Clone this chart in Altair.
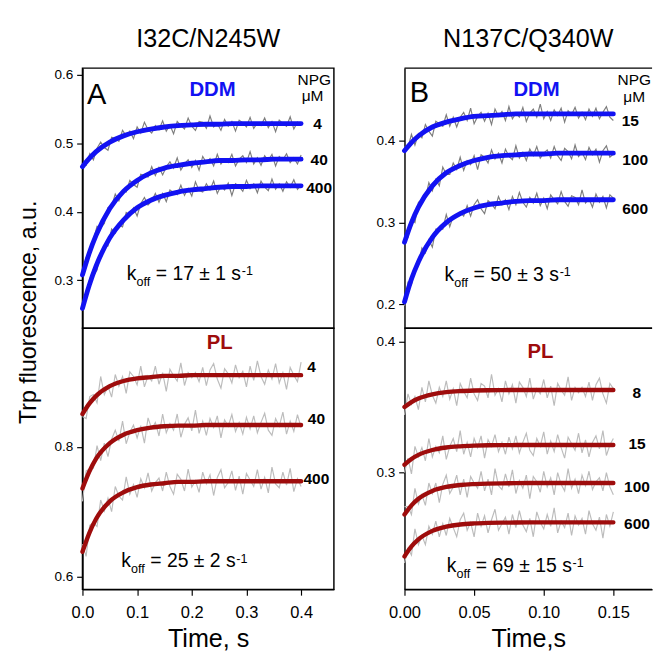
import altair as alt
import pandas as pd

FONT = "Liberation Sans"

# sampling interval of the recorded traces (s)
LEFT_DT = 0.4 / 60
RIGHT_DT = 0.15 / 60

# ---- recorded traces, fluorescence in 1/1000 a.u. ----
# I32C/N245W, DDM
DDM1_4 = [468,468,485,476,493,502,494,490,509,507,503,519,511,518,507,524,515,531,520,515,526,520,533,518,527,514,532,526,521,537,525,519,532,531,522,540,524,529,519,535,525,532,518,534,530,524,538,522,530,526,537,523,532,517,534,529,525,539,521,531,527]
DDM1_40 = [305,333,336,359,379,377,383,406,408,426,416,431,429,446,440,436,455,453,451,466,453,465,454,466,473,464,479,461,470,476,465,475,461,481,472,478,467,484,470,477,472,484,467,477,482,472,488,470,479,468,482,475,484,467,481,476,485,472,479,470,483]
DDM1_400 = [263,271,303,307,315,342,349,350,375,369,381,378,399,395,406,394,412,421,410,416,427,414,427,415,432,428,425,439,424,434,423,444,431,429,441,432,445,427,438,432,442,424,441,437,430,446,434,441,428,445,436,431,448,433,441,430,444,436,447,433,439]
# I32C/N245W, PL
PL1_4 = [847,844,878,881,868,909,881,894,877,912,894,909,883,916,909,896,925,893,910,902,925,897,915,886,920,910,902,930,895,915,907,915,901,923,895,919,929,905,891,921,913,899,927,907,917,893,925,903,933,909,897,919,905,929,899,915,889,923,911,901,931]
PL1_40 = [716,763,766,767,802,779,806,785,812,826,809,840,805,823,834,814,833,806,845,828,838,817,851,822,836,826,851,815,835,845,825,857,821,840,818,844,830,848,814,842,832,850,824,838,820,846,828,848,822,838,852,826,818,844,832,854,820,840,824,850,830]
PL1_400 = [650,631,679,683,677,718,701,721,700,739,724,718,754,727,742,722,751,737,760,732,745,752,732,761,739,727,758,750,732,766,738,748,730,761,743,757,725,753,765,737,745,763,733,755,727,759,749,739,765,735,753,729,769,743,737,761,741,767,731,751,739]
# N137C/Q340W, DDM
DDM2_15 = [393,392,408,395,409,404,420,412,406,424,421,418,432,418,429,417,429,435,425,440,421,430,435,424,434,420,439,430,436,425,442,427,434,429,441,424,434,439,429,445,427,436,425,438,431,440,423,437,432,441,428,435,426,439,430,440,427,435,442,429,425]
DDM2_100 = [284,282,304,300,325,328,330,349,339,353,345,368,359,359,373,365,380,364,376,371,382,365,383,380,373,389,378,385,373,390,381,377,394,379,386,376,390,382,393,379,385,389,379,393,382,376,391,387,378,395,381,386,377,392,383,390,374,388,394,380,384]
DDM2_600 = [198,227,224,243,249,269,263,279,270,292,292,292,310,295,308,307,313,308,321,308,322,328,317,311,327,323,317,332,322,328,316,332,322,337,325,319,331,324,336,321,330,317,334,328,323,338,326,320,333,331,322,340,324,329,319,335,325,332,318,334,330]
# N137C/Q340W, PL
PL2_8 = [344,360,352,358,348,365,354,370,359,353,365,358,370,356,364,351,368,362,357,372,360,355,368,366,357,375,359,364,354,370,360,367,353,369,365,358,372,356,364,360,371,357,366,351,368,363,359,373,355,365,361,365,358,369,355,367,372,360,353,368,364]
PL2_15 = [300,311,299,320,312,319,309,326,312,320,315,328,310,320,326,316,332,314,323,312,326,319,328,311,325,320,329,316,323,314,327,318,328,315,323,330,317,313,326,320,331,314,324,316,329,319,311,327,322,317,330,315,325,312,323,328,318,332,313,321,326]
PL2_100 = [274,274,268,288,276,283,275,292,284,292,277,291,298,284,289,298,283,295,281,297,292,288,301,286,295,283,303,290,287,299,289,302,284,294,288,298,280,297,293,285,301,289,296,283,300,291,286,303,288,295,284,298,290,301,287,293,296,286,300,289,283]
PL2_600 = [231,242,237,257,245,252,245,259,253,263,251,261,252,265,258,251,264,269,256,262,251,269,259,267,254,264,272,256,261,266,253,268,258,271,260,255,265,251,270,262,257,268,259,273,254,263,258,269,252,267,260,265,253,271,261,256,266,250,268,259,270]

# ---- fitted curves (a.u.) ----
FIT_T_LEFT = [0, 0.0125, 0.025, 0.05, 0.075, 0.1, 0.125, 0.15, 0.175, 0.2, 0.225, 0.25, 0.275, 0.3, 0.325, 0.35, 0.375, 0.4]
FIT_DDM1_4 = [0.466,0.478,0.488,0.502,0.511,0.517,0.521,0.524,0.526,0.527,0.528,0.528,0.529,0.529,0.529,0.529,0.529,0.529]
FIT_DDM1_40 = [0.308,0.340,0.366,0.405,0.430,0.446,0.457,0.464,0.468,0.471,0.473,0.475,0.475,0.476,0.476,0.477,0.477,0.477]
FIT_DDM1_400 = [0.259,0.293,0.321,0.362,0.388,0.406,0.417,0.424,0.429,0.432,0.434,0.436,0.437,0.437,0.438,0.438,0.438,0.438]
FIT_PL1_4 = [0.851,0.867,0.879,0.894,0.902,0.906,0.908,0.910,0.910,0.911,0.911,0.911,0.911,0.911,0.911,0.911,0.911,0.911]
FIT_PL1_40 = [0.736,0.762,0.782,0.806,0.819,0.826,0.830,0.832,0.833,0.833,0.834,0.834,0.834,0.834,0.834,0.834,0.834,0.834]
FIT_PL1_400 = [0.638,0.667,0.689,0.716,0.730,0.738,0.742,0.744,0.746,0.746,0.747,0.747,0.747,0.747,0.747,0.747,0.747,0.747]

FIT_T_RIGHT = [0, 0.005, 0.01, 0.02, 0.03, 0.04, 0.05, 0.06, 0.07, 0.08, 0.09, 0.1, 0.11, 0.12, 0.13, 0.14, 0.15]
FIT_DDM2_15 = [0.388,0.398,0.406,0.417,0.423,0.427,0.430,0.431,0.432,0.433,0.433,0.433,0.433,0.433,0.433,0.433,0.433]
FIT_DDM2_100 = [0.276,0.300,0.319,0.345,0.361,0.370,0.376,0.380,0.382,0.383,0.384,0.384,0.385,0.385,0.385,0.385,0.385]
FIT_DDM2_600 = [0.203,0.231,0.252,0.282,0.300,0.311,0.318,0.322,0.324,0.326,0.327,0.327,0.328,0.328,0.328,0.328,0.328]
FIT_PL2_8 = [0.350,0.3538,0.3565,0.3597,0.3614,0.3622,0.3626,0.3628,0.3629,0.363,0.363,0.363,0.363,0.363,0.363,0.363,0.363]
FIT_PL2_15 = [0.306,0.3104,0.3135,0.3172,0.3191,0.3200,0.3205,0.3208,0.3209,0.321,0.321,0.321,0.321,0.321,0.321,0.321,0.321]
FIT_PL2_100 = [0.268,0.275,0.280,0.286,0.289,0.2905,0.2912,0.2916,0.2918,0.2919,0.292,0.292,0.292,0.292,0.292,0.292,0.292]
FIT_PL2_600 = [0.236,0.2436,0.249,0.2555,0.2587,0.2604,0.2612,0.2616,0.2618,0.2619,0.262,0.262,0.262,0.262,0.262,0.262,0.262]

# ---- annotations: (text, t, value, style) ----
ANN_TL = [("A", 0.0083, 0.557, "letter"), ("DDM", 0.238, 0.569, "buffer"),
          ("NPG", 0.424, 0.586, "npg"), ("\u03bcM", 0.421, 0.562, "npg"),
          ("4", 0.43, 0.528, "conc"), ("40", 0.433, 0.475, "conc"), ("400", 0.433, 0.434, "conc"),
          ("k", 0.081, 0.3007, "k"), ("off", 0.081, 0.3007, "off"),
          ("= 17 \u00b1 1 s", 0.081, 0.3007, "eq"), ("-1", 0.081, 0.3007, "sup")]
ANN_BL = [("PL", 0.251, 0.952, "buffer"),
          ("4", 0.419, 0.924, "conc"), ("40", 0.428, 0.843, "conc"), ("400", 0.428, 0.750, "conc"),
          ("k", 0.071, 0.614, "k"), ("off", 0.071, 0.614, "off"),
          ("= 25 \u00b1 2 s", 0.071, 0.614, "eq"), ("-1", 0.071, 0.614, "sup")]
ANN_TR = [("B", 0.0038, 0.4477, "letter"), ("DDM", 0.0948, 0.4548, "buffer"),
          ("NPG", 0.1650, 0.469, "npg"), ("\u03bcM", 0.1650, 0.448, "npg"),
          ("15", 0.1622, 0.4244, "conc"), ("100", 0.1656, 0.3763, "conc"), ("600", 0.1656, 0.3163, "conc"),
          ("k", 0.0288, 0.2284, "k"), ("off", 0.0288, 0.2284, "off"),
          ("= 50 \u00b1 3 s", 0.0288, 0.2284, "eq"), ("-1", 0.0288, 0.2284, "sup")]
ANN_BR = [("PL", 0.0976, 0.3877, "buffer"),
          ("8", 0.1668, 0.3605, "conc"), ("15", 0.167, 0.322, "conc"),
          ("100", 0.167, 0.2887, "conc"), ("600", 0.167, 0.261, "conc"),
          ("k", 0.0304, 0.224, "k"), ("off", 0.0304, 0.224, "off"),
          ("= 69 \u00b1 15 s", 0.0304, 0.224, "eq"), ("-1", 0.0304, 0.224, "sup")]

BLUE = "#1212f2"
RED = "#9e0c0c"
DARK_GRAY = "#7d7d7d"
LIGHT_GRAY = "#bcbcbc"


def noise_df(series, dt):
    rows = []
    for name, vals in series.items():
        for i, v in enumerate(vals):
            rows.append({"t": i * dt, "v": v / 1000.0, "series": name})
    return pd.DataFrame(rows)


def fit_df(times, series):
    rows = []
    for name, vals in series.items():
        for t, v in zip(times, vals):
            rows.append({"t": t, "v": v, "series": name})
    return pd.DataFrame(rows)


def ann_df(items):
    return pd.DataFrame([{"label": l, "t": t, "v": v, "style": s} for (l, t, v, s) in items])


def panel(noise, fits, ann, xdom, ydom, yaxis, xaxis, width, height, gray, fcolor,
          fwidth, bcolor, sup_dx, open_right=False, title=None):
    X = alt.X("t:Q", scale=alt.Scale(domain=xdom, nice=False, zero=False), axis=xaxis)
    Y = alt.Y("v:Q", scale=alt.Scale(domain=ydom, nice=False, zero=False), axis=yaxis)
    layers = [
        alt.Chart(noise).mark_line(color=gray, strokeWidth=1.2).encode(x=X, y=Y, detail="series:N"),
        alt.Chart(fits).mark_line(color=fcolor, strokeWidth=fwidth, interpolate="monotone",
                                  strokeCap="round").encode(x=X, y=Y, detail="series:N"),
    ]
    styles = {
        "letter": dict(fontSize=30, align="left", baseline="alphabetic", color="black"),
        "buffer": dict(fontSize=21, fontWeight="bold", align="center", baseline="alphabetic", color=bcolor),
        "npg": dict(fontSize=16, align="center", baseline="alphabetic", color="black"),
        "conc": dict(fontSize=16, fontWeight="bold", align="center", baseline="middle", color="black"),
        "k": dict(fontSize=20, align="left", baseline="alphabetic", color="black"),
        "off": dict(fontSize=13, align="left", baseline="alphabetic", dx=10, dy=6, color="black"),
        "eq": dict(fontSize=20, align="left", baseline="alphabetic", dx=30, color="black"),
        "sup": dict(fontSize=13, align="left", baseline="alphabetic", dx=sup_dx, dy=-5, color="black"),
    }
    present = set(a for a in ann["style"])
    for name, props in styles.items():
        if name not in present:
            continue
        layers.append(
            alt.Chart(ann).transform_filter(alt.datum.style == name)
            .mark_text(font=FONT, **props).encode(x=X, y=Y, text="label:N")
        )
    frame = pd.DataFrame({"r": [0]})
    if open_right:
        layers.append(alt.Chart(frame).mark_rule(color="black", strokeWidth=1.5)
                      .encode(x=alt.value(0), x2=alt.value(width), y=alt.value(0)))
        layers.append(alt.Chart(frame).mark_rule(color="black", strokeWidth=1.5)
                      .encode(x=alt.value(0), x2=alt.value(width), y=alt.value(height)))
    if title is not None:
        layers.append(alt.Chart(frame).mark_text(text=title, font=FONT, fontSize=26, align="center",
                                                 baseline="top", color="black")
                      .encode(x=alt.value(width / 2), y=alt.value(-43)))
    ch = alt.layer(*layers).properties(width=width, height=height)
    if open_right:
        ch = ch.properties(view=alt.ViewBackground(stroke="transparent"))
    return ch


def yaxis(values, title=None):
    kw = dict(values=values, format=".1f", tickSize=6, labelFontSize=14, labelPadding=4)
    if title:
        return alt.Axis(title=title, titleFontSize=24, titlePadding=14, titleY=252, **kw)
    return alt.Axis(title=None, **kw)


def xaxis(values, fmt, title):
    return alt.Axis(values=values, format=fmt, tickSize=6, labelFontSize=17, labelPadding=10,
                    labelFlush=False, title=title, titleFontSize=26, titlePadding=6)


LW, RW, TH, BH = 260, 256, 269, 270

tl = panel(noise_df({"4": DDM1_4, "40": DDM1_40, "400": DDM1_400}, LEFT_DT),
           fit_df(FIT_T_LEFT, {"4": FIT_DDM1_4, "40": FIT_DDM1_40, "400": FIT_DDM1_400}),
           ann_df(ANN_TL), [0, 0.46], [0.230, 0.610],
           yaxis([0.3, 0.4, 0.5, 0.6], "Trp fluorescence, a.u."), None,
           LW, TH, DARK_GRAY, BLUE, 5, BLUE, 119, title="I32C/N245W")
bl = panel(noise_df({"4": PL1_4, "40": PL1_40, "400": PL1_400}, LEFT_DT),
           fit_df(FIT_T_LEFT, {"4": FIT_PL1_4, "40": FIT_PL1_40, "400": FIT_PL1_400}),
           ann_df(ANN_BL), [0, 0.46], [0.580, 0.9835],
           yaxis([0.6, 0.8]), xaxis([0, 0.1, 0.2, 0.3, 0.4], ".1f", "Time, s"),
           LW, BH, LIGHT_GRAY, RED, 4.5, RED, 119)
tr = panel(noise_df({"15": DDM2_15, "100": DDM2_100, "600": DDM2_600}, RIGHT_DT),
           fit_df(FIT_T_RIGHT, {"15": FIT_DDM2_15, "100": FIT_DDM2_100, "600": FIT_DDM2_600}),
           ann_df(ANN_TR), [0, 0.1778], [0.1708, 0.4891],
           yaxis([0.2, 0.3, 0.4]), None,
           RW, TH, DARK_GRAY, BLUE, 5, BLUE, 119, open_right=True, title="N137C/Q340W")
br = panel(noise_df({"8": PL2_8, "15": PL2_15, "100": PL2_100, "600": PL2_600}, RIGHT_DT),
           fit_df(FIT_T_RIGHT, {"8": FIT_PL2_8, "15": FIT_PL2_15, "100": FIT_PL2_100, "600": FIT_PL2_600}),
           ann_df(ANN_BR), [0, 0.1778], [0.2109, 0.4101],
           yaxis([0.3, 0.4]), xaxis([0, 0.05, 0.10, 0.15], ".2f", "Time,s"),
           RW, BH, LIGHT_GRAY, RED, 4.5, RED, 130, open_right=True)

left = alt.vconcat(tl, bl, spacing=0, bounds="flush")
right = alt.vconcat(tr, br, spacing=0, bounds="flush")

chart = (
    alt.hconcat(left, right, spacing=41)
    .properties(padding={"left": 8, "right": 0, "top": 7, "bottom": 0})
    .configure_view(stroke="black", strokeWidth=1.5)
    .configure_axis(grid=False, domainColor="black", domainWidth=1.5, tickColor="black",
                    tickWidth=1.2, labelColor="black", titleColor="black", labelFont=FONT,
                    titleFont=FONT, titleFontWeight="normal")
)

chart.save("out.html", embed_options={"renderer": "svg", "actions": False})
